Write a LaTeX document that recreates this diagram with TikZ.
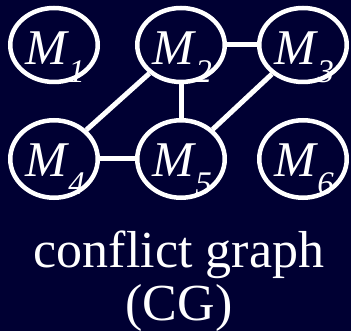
\documentclass[tikz,border=0pt]{standalone}
\usepackage{fontspec}
\setmainfont{Liberation Serif}
\usetikzlibrary{shapes.geometric}
\definecolor{bgnavy}{RGB}{0,0,51}
\newcommand{\mmlab}[1]{M\kern1.5pt\raisebox{-18pt}{\fontsize{33}{33}\selectfont #1}}
\begin{document}
\begin{tikzpicture}[x=1pt,y=-1pt,
  mnode/.style={draw=white, ellipse, line width=4.5pt, minimum width=87.5pt, inner sep=0pt},
  rowone/.style={minimum height=74pt},
  rowtwo/.style={minimum height=77.5pt},
  mtext/.style={text=white, anchor=base, inner sep=0pt, font=\fontsize{50}{50}\selectfont\itshape},
  edge/.style={draw=white, line width=5pt},
  caption/.style={text=white, anchor=base, inner sep=0pt, font=\fontsize{52}{52}\selectfont}]
\fill[bgnavy] (0,0) rectangle (351,331);
\useasboundingbox (0,0) rectangle (351,331);
\node[mnode,rowone] (m1) at (54,45) {};
\node[mnode,rowone] (m2) at (181,45) {};
\node[mnode,rowone] (m3) at (303,45) {};
\node[mnode,rowtwo] (m4) at (54,159) {};
\node[mnode,rowtwo] (m5) at (181,159) {};
\node[mnode,rowtwo] (m6) at (303,159) {};
\node[mtext] (l1) at ([xshift=1pt,yshift=-20pt]m1.center) {\mmlab{1}};
\node[mtext] (l2) at ([xshift=1pt,yshift=-20pt]m2.center) {\mmlab{2}};
\node[mtext] (l3) at ([xshift=1pt,yshift=-20pt]m3.center) {\mmlab{3}};
\node[mtext] (l4) at ([xshift=1pt,yshift=-18pt]m4.center) {\mmlab{4}};
\node[mtext] (l5) at ([xshift=1pt,yshift=-18pt]m5.center) {\mmlab{5}};
\node[mtext] (l6) at ([xshift=1pt,yshift=-18pt]m6.center) {\mmlab{6}};
\draw[edge] (m2) -- (m3);
\draw[edge] (m2) -- (m4);
\draw[edge] (m2) -- (m5);
\draw[edge] (m3) -- (m5);
\draw[edge] (m4) -- (m5);
\node[caption] (c1) at (179,268) {conflict graph};
\node[caption] (c2) at (179,320) {(CG)};
\end{tikzpicture}
\end{document}
